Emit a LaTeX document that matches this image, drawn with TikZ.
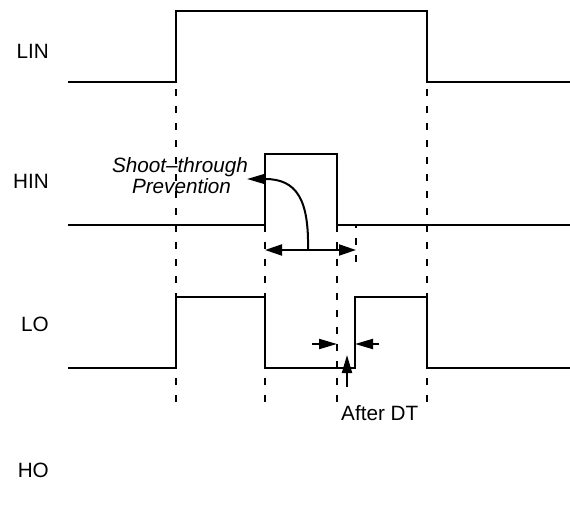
\documentclass[tikz,border=0pt]{standalone}
\usepackage{fontspec}
\setmainfont{Liberation Sans}
\usetikzlibrary{arrows.meta}
\begin{document}
\begin{tikzpicture}[x=1pt,y=-1pt,
  wave/.style={line width=2.3pt, line join=miter},
  guide/.style={line width=2pt, dash pattern=on 7pt off 10pt},
  arr/.style={line width=2pt, -{Triangle[length=18pt,width=10pt]}},
  dbl/.style={line width=2pt, {Triangle[length=17pt,width=11pt]}-{Triangle[length=17pt,width=11pt]}},
  lbl/.style={inner sep=0pt, font=\fontsize{20.7}{21}\selectfont},
  every node/.style={lbl}]
\useasboundingbox (0,0) rectangle (570,510);
% signal labels
\node[anchor=base east] (lin) at (49,59) {LIN};
\node[anchor=base east] (hin) at (49,189) {HIN};
\node[anchor=base east] (lo) at (49,332) {LO};
\node[anchor=base east] (ho) at (49,477) {HO};
% guide lines (dashed)
\draw[guide] (176,402) -- (176,82);
\draw[guide] (427,402) -- (427,82);
\draw[guide] (265,402) -- (265,225);
\draw[guide] (337,402) -- (337,225);
\draw[guide] (355.5,262) -- (355.5,225);
% waveforms
\draw[wave] (68,82) -- (176,82) -- (176,11) -- (427,11) -- (427,82) -- (570,82);
\draw[wave] (68,225) -- (265,225) -- (265,154) -- (337,154) -- (337,225) -- (570,225);
\draw[wave] (68,368) -- (176,368) -- (176,297) -- (265,297) -- (265,368) -- (355,368) -- (355,297) -- (427,297) -- (427,368) -- (570,368);
% shoot-through prevention
\coordinate (ws) at (265,250);
\coordinate (we) at (356,250);
\draw[dbl] (ws) -- (we);
\coordinate (cs) at (308,250);
\coordinate (ce) at (247,179);
\draw[arr] (cs) .. controls (309,200) and (297,179) .. (265,179) -- (ce);
\node[anchor=base, font=\fontsize{20.7}{21}\selectfont\itshape] (st1) at (180,173) {Shoot–through};
\node[anchor=base, font=\fontsize{20.7}{21}\selectfont\itshape] (st2) at (181.5,194) {Prevention};
% dead time
\coordinate (a1) at (312,344);
\coordinate (a1e) at (337,344);
\coordinate (a2) at (379,344);
\coordinate (a2e) at (355,344);
\draw[arr] (a1) -- (a1e);
\draw[arr] (a2) -- (a2e);
\coordinate (u1) at (347,387);
\coordinate (u1e) at (347,355);
\draw[arr] (u1) -- (u1e);
\node[anchor=base west] (adt) at (341,420) {After DT};
\end{tikzpicture}
\end{document}
